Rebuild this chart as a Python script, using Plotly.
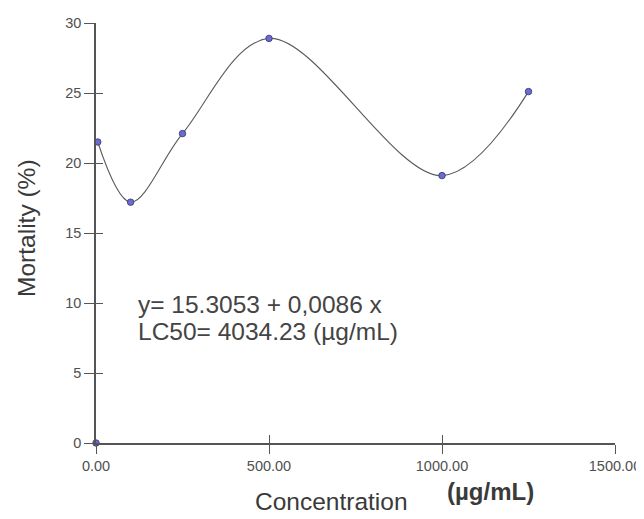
import plotly.graph_objects as go

# Data
conc_curve = [5, 100, 250, 500, 1000, 1250]
mort_curve = [21.5, 17.2, 22.1, 28.9, 19.1, 25.1]
conc_ctrl = [0]
mort_ctrl = [0]

x_ticks = [0, 500, 1000, 1500]
y_ticks = [0, 5, 10, 15, 20, 25, 30]

equation_lines = ["y= 15.3053 + 0,0086 x", "LC50= 4034.23 (µg/mL)"]
x_title = "Concentration"
x_unit = "(µg/mL)"
y_title = "Mortality (%)"

FONT = "Liberation Sans, Arial, sans-serif"
AX = "#555555"
TXT = "#444444"
TICKTXT = "#505050"

fig = go.Figure()

fig.add_trace(go.Scatter(
    x=conc_curve, y=mort_curve, mode="lines",
    line=dict(color="#5a5a5a", width=1.1, shape="spline", smoothing=1.0),
    hoverinfo="skip", showlegend=False, cliponaxis=False))

fig.add_trace(go.Scatter(
    x=conc_ctrl + conc_curve, y=mort_ctrl + mort_curve, mode="markers",
    marker=dict(color="#6b6bd6", size=6.5, line=dict(color="#333366", width=0.8)),
    showlegend=False, cliponaxis=False))

# invisible trace on overlay axes (ticks on the inner side of the axis lines)
fig.add_trace(go.Scatter(x=[None], y=[None], xaxis="x2", yaxis="y2",
                         showlegend=False, hoverinfo="skip"))

# the page body has an 8px margin, so the figure is 8px smaller than the window
fig.update_layout(
    width=636, height=511,
    paper_bgcolor="white", plot_bgcolor="white",
    margin=dict(l=88, r=29, t=15, b=76, autoexpand=False),
    font=dict(family=FONT, color=TXT),
    xaxis=dict(range=[0, 1500], tickvals=x_ticks, tickformat=".2f",
               showgrid=False, zeroline=False, showline=True, automargin=False,
               linecolor=AX, linewidth=1.5, ticks="outside", ticklen=9,
               tickcolor=AX, tickwidth=1.2,
               tickfont=dict(size=14.5, color=TICKTXT, family=FONT)),
    yaxis=dict(range=[0, 30], tickvals=y_ticks, showgrid=False, automargin=False,
               zeroline=False, showline=True, linecolor=AX, linewidth=1.5,
               ticks="outside", ticklen=10, tickcolor=AX, tickwidth=1.2,
               tickfont=dict(size=14.5, color=TICKTXT, family=FONT)),
    xaxis2=dict(range=[0, 1500], overlaying="x", anchor="y2", tickvals=x_ticks,
                showticklabels=False, showgrid=False, zeroline=False,
                showline=False, ticks="inside", ticklen=8, tickcolor=AX,
                tickwidth=1.2, side="bottom", automargin=False),
    yaxis2=dict(range=[0, 30], overlaying="y", anchor="x2", tickvals=y_ticks,
                showticklabels=False, showgrid=False, zeroline=False,
                showline=False, ticks="inside", ticklen=7, tickcolor=AX,
                tickwidth=1.2, side="left", automargin=False),
)

# equation text
fig.add_annotation(x=116, y=9.86, xref="x", yref="y", text=equation_lines[0],
                   showarrow=False, xanchor="left", yanchor="middle",
                   font=dict(size=24.5, color=TXT, family=FONT))
fig.add_annotation(x=116, y=7.93, xref="x", yref="y", text=equation_lines[1],
                   showarrow=False, xanchor="left", yanchor="middle",
                   font=dict(size=24.5, color=TXT, family=FONT))

# axis titles
fig.add_annotation(x=0.453, y=-0.139, xref="paper", yref="paper", text=x_title,
                   showarrow=False, xanchor="center", yanchor="middle",
                   borderpad=0,
                   font=dict(size=24.5, color="#3a3a3a", family=FONT))
fig.add_annotation(x=0.76, y=-0.115, xref="paper", yref="paper",
                   text="<b>" + x_unit + "</b>",
                   showarrow=False, xanchor="center", yanchor="middle",
                   font=dict(size=24, color="#3a3a3a", family=FONT))
fig.add_annotation(x=-0.133, y=0.512, xref="paper", yref="paper", text=y_title,
                   showarrow=False, xanchor="center", yanchor="middle",
                   textangle=-90,
                   font=dict(size=24.5, color="#3a3a3a", family=FONT))

fig.write_html("out.html")
